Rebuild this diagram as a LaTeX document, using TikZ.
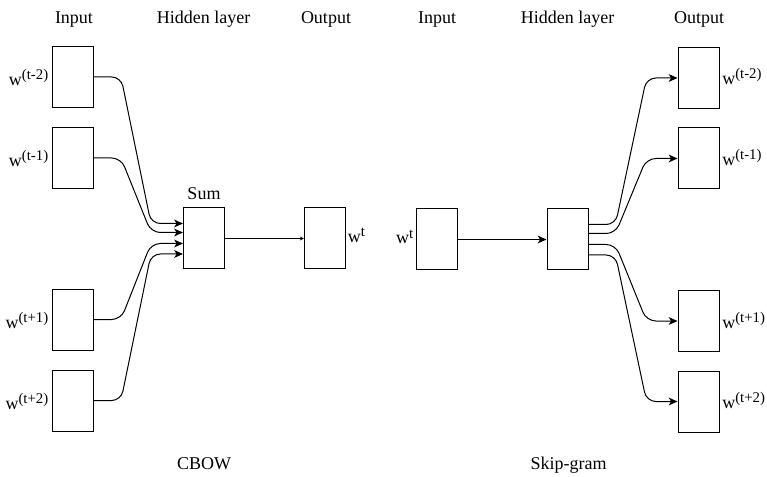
\documentclass[tikz,border=0pt]{standalone}
\usepackage{fontspec}
\setmainfont{Liberation Serif}
\usetikzlibrary{arrows.meta,calc}
% raised, slightly smaller index text after a word symbol
\newcommand\wsup[1]{\raisebox{4.5pt}{\fontsize{11.1}{13}\selectfont #1}}
\begin{document}
\begin{tikzpicture}[x=0.75pt,y=-0.75pt,
  every node/.style={font=\fontsize{13.5}{16}\selectfont},
  unit/.style={draw, line width=0.75pt, minimum width=30.75pt, minimum height=45.75pt, inner sep=0pt},
  lbl/.style={inner sep=0pt},
  link/.style={line width=0.75pt, rounded corners=7pt},
  tip/.style={-{Stealth[length=6.6pt,width=5.8pt,inset=1.8pt]}},
  smalltip/.style={-{Stealth[length=3pt,width=2.8pt,inset=0.8pt]}}]
\useasboundingbox (0,0) rectangle (767,477);

% ---------------- CBOW ----------------
\node[unit] (i1) at (73,77) {};
\node[unit] (i2) at (73,158) {};
\node[unit] (i3) at (73,319.5) {};
\node[unit] (i4) at (73,400.5) {};
\node[unit] (sum) at (204,238.5) {};
\node[unit] (cout) at (325,238.5) {};

\node[lbl, anchor=base east] (li1) at ($(i1.west)+(-3.5,9)$) {w\wsup{(t-2)}};
\node[lbl, anchor=base east] (li2) at ($(i2.west)+(-3.5,9)$) {w\wsup{(t-1)}};
\node[lbl, anchor=base east] (li3) at ($(i3.west)+(-3.5,9)$) {w\wsup{(t+1)}};
\node[lbl, anchor=base east] (li4) at ($(i4.west)+(-3.5,9)$) {w\wsup{(t+2)}};
\node[lbl, anchor=base west] (lco) at ($(cout.east)+(1.5,4.5)$) {w\wsup{t}};
\node[lbl, anchor=base] (lsum) at (204,200) {Sum};

\foreach \src/\dy in {i1/-15, i2/-6, i3/5, i4/15.5}
  \draw[link, tip] (\src.east) -- ++(27,0)
     -- ($(sum.west)+(-32,\dy)$) -- ($(sum.west)+(0,\dy)$);
\draw[line width=0.75pt, smalltip] (sum.east) -- (cout.west);

\node[lbl, anchor=base] (t1) at (74,24) {Input};
\node[lbl, anchor=base] (t2) at (203.5,24) {Hidden layer};
\node[lbl, anchor=base] (t3) at (326,24) {Output};
\node[lbl, anchor=base] (cap1) at (204,469) {CBOW};

% ---------------- Skip-gram ----------------
\node[unit] (sin) at (436.5,239.5) {};
\node[unit] (hid) at (567.5,239.5) {};
\node[unit] (o1) at (698.5,78) {};
\node[unit] (o2) at (698.5,158.5) {};
\node[unit] (o3) at (698.5,321) {};
\node[unit] (o4) at (698.5,401.5) {};

\node[lbl, anchor=base east] (lsi) at ($(sin.west)+(-2,4.5)$) {w\wsup{t}};
\node[lbl, anchor=base west] (lo1) at ($(o1.east)+(2.5,7)$) {w\wsup{(t-2)}};
\node[lbl, anchor=base west] (lo2) at ($(o2.east)+(2.5,7)$) {w\wsup{(t-1)}};
\node[lbl, anchor=base west] (lo3) at ($(o3.east)+(2.5,7)$) {w\wsup{(t+1)}};
\node[lbl, anchor=base west] (lo4) at ($(o4.east)+(2.5,7)$) {w\wsup{(t+2)}};

\draw[line width=0.75pt, tip] (sin.east) -- (hid.west);
\foreach \dst/\dy in {o1/-15, o2/-6, o3/5, o4/15.5}
  \draw[link, tip] ($(hid.east)+(0,\dy)$) -- ++(27,0)
     -- ($(\dst.west)+(-31,0)$) -- (\dst.west);

\node[lbl, anchor=base] (t4) at (437,24) {Input};
\node[lbl, anchor=base] (t5) at (567.5,24) {Hidden layer};
\node[lbl, anchor=base] (t6) at (699,24) {Output};
\node[lbl, anchor=base] (cap2) at (568.5,469) {Skip-gram};
\end{tikzpicture}
\end{document}
